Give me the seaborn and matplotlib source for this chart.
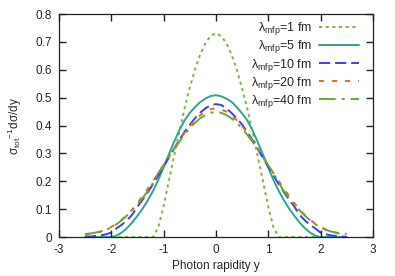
import seaborn as sns
import matplotlib.pyplot as plt
import pandas as pd

sns.set_style("ticks", {"xtick.direction": "in", "ytick.direction": "in"})
plt.rcParams["font.family"] = ["Liberation Sans", "DejaVu Sans"]
plt.rcParams["mathtext.fontset"] = "custom"
plt.rcParams["mathtext.rm"] = "Liberation Sans"
plt.rcParams["mathtext.it"] = "Liberation Sans:italic"

# photon rapidity bins
rapidity = [-2.5, -2.4, -2.3, -2.2, -2.1, -2.0, -1.9, -1.8, -1.7, -1.6, -1.5,
            -1.4, -1.3, -1.2, -1.1, -1.0, -0.9, -0.8, -0.7, -0.6, -0.5,
            -0.4, -0.3, -0.2, -0.1, 0.0, 0.1, 0.2, 0.3, 0.4, 0.5,
            0.6, 0.7, 0.8, 0.9, 1.0, 1.1, 1.2, 1.3, 1.4, 1.5,
            1.6, 1.7, 1.8, 1.9, 2.0, 2.1, 2.2, 2.3, 2.4, 2.5]

mfp_1 = [0, 0, 0, 0, 0, 0, 0, 0, 0, 0, 0,
         0, 0, 0, 0.035, 0.11, 0.20, 0.29, 0.375, 0.46, 0.535,
         0.60, 0.655, 0.695, 0.722, 0.731, 0.721, 0.696, 0.654, 0.601, 0.534,
         0.461, 0.376, 0.29, 0.20, 0.11, 0.035, 0, 0, 0, 0,
         0, 0, 0, 0, 0, 0, 0, 0, 0, 0]
mfp_5 = [0, 0, 0, 0, 0, 0, 0.005, 0.016, 0.032, 0.052, 0.076,
         0.102, 0.132, 0.166, 0.205, 0.25, 0.296, 0.341, 0.383, 0.418, 0.445,
         0.466, 0.484, 0.497, 0.506, 0.509, 0.505, 0.497, 0.485, 0.466, 0.444,
         0.419, 0.383, 0.341, 0.296, 0.25, 0.205, 0.166, 0.132, 0.102, 0.076,
         0.052, 0.032, 0.016, 0.005, 0, 0, 0, 0, 0, 0]
mfp_10 = [0.001, 0.002, 0.004, 0.006, 0.01, 0.016, 0.031, 0.044, 0.06, 0.08, 0.109,
          0.134, 0.161, 0.19, 0.221, 0.252, 0.284, 0.316, 0.348, 0.377, 0.403,
          0.426, 0.446, 0.462, 0.473, 0.477, 0.474, 0.462, 0.445, 0.426, 0.404,
          0.377, 0.348, 0.316, 0.284, 0.252, 0.221, 0.19, 0.161, 0.134, 0.109,
          0.08, 0.06, 0.044, 0.031, 0.016, 0.01, 0.006, 0.004, 0.002, 0.001]
mfp_20 = [0.008, 0.011, 0.015, 0.02, 0.027, 0.036, 0.048, 0.062, 0.079, 0.098, 0.122,
          0.147, 0.174, 0.201, 0.229, 0.258, 0.288, 0.318, 0.347, 0.374, 0.398,
          0.419, 0.437, 0.45, 0.459, 0.462, 0.458, 0.45, 0.437, 0.419, 0.398,
          0.374, 0.347, 0.318, 0.288, 0.258, 0.229, 0.201, 0.174, 0.147, 0.122,
          0.098, 0.079, 0.062, 0.048, 0.036, 0.027, 0.02, 0.015, 0.011, 0.008]
mfp_40 = [0.011, 0.013, 0.016, 0.02, 0.026, 0.034, 0.046, 0.06, 0.077, 0.096, 0.117,
          0.14, 0.165, 0.195, 0.23, 0.258, 0.287, 0.315, 0.342, 0.367, 0.39,
          0.41, 0.426, 0.438, 0.446, 0.449, 0.446, 0.438, 0.426, 0.41, 0.39,
          0.367, 0.342, 0.315, 0.287, 0.258, 0.23, 0.195, 0.165, 0.14, 0.117,
          0.096, 0.077, 0.06, 0.046, 0.034, 0.026, 0.02, 0.016, 0.013, 0.011]

x_ticks = [-3, -2, -1, 0, 1, 2, 3]
x_tick_labels = ["-3", "-2", "-1", "0", "1", "2", "3"]
y_ticks = [0, 0.1, 0.2, 0.3, 0.4, 0.5, 0.6, 0.7, 0.8]
y_tick_labels = ["0", "0.1", "0.2", "0.3", "0.4", "0.5", "0.6", "0.7", "0.8"]

series = [
    ("λ$_{\\rm mfp}$=1 fm", mfp_1, "#77b843", (0, (1.57, 1.86))),
    ("λ$_{\\rm mfp}$=5 fm", mfp_5, "#2ca58d", "-"),
    ("λ$_{\\rm mfp}$=10 fm", mfp_10, "#3c3cf5", (0, (5.7, 2.57))),
    ("λ$_{\\rm mfp}$=20 fm", mfp_20, "#e36c1c", (0, (2.57, 4.14))),
    ("λ$_{\\rm mfp}$=40 fm", mfp_40, "#66a832", (0, (8.57, 3.07, 1.57, 3.07))),
]

fig = plt.figure(figsize=(3.95, 2.76), dpi=100)
ax = fig.add_axes([0.149, 0.141, 0.795, 0.808])

for label, vals, color, ls in series:
    df = pd.DataFrame({"y": rapidity, "v": vals})
    sns.lineplot(data=df, x="y", y="v", ax=ax, color=color, linestyle=ls,
                 linewidth=1.4, label=label)

ax.set_xlim(-3, 3)
ax.set_ylim(0, 0.8)
ax.set_xticks(x_ticks)
ax.set_xticklabels(x_tick_labels)
ax.set_yticks(y_ticks)
ax.set_yticklabels(y_tick_labels)
for s in ax.spines.values():
    s.set_color("#222222")
    s.set_linewidth(0.9)

ax.set_xlabel("Photon rapidity y", fontsize=8.5, labelpad=3)
ax.set_ylabel("σ$_{\\rm tot}$$^{-1}$dσ/dy", fontsize=8.5, labelpad=8)

ax.legend(loc="upper right", bbox_to_anchor=(0.955, 0.972), frameon=False,
          markerfirst=False, fontsize=9, handlelength=3.2, handletextpad=0.56,
          labelspacing=0.09, borderaxespad=0, borderpad=0)

# ticks set last, mirrored on all four sides and pointing inward
ax.set_axisbelow(False)
ax.xaxis.set_ticks_position("both")
ax.yaxis.set_ticks_position("both")
ax.tick_params(axis="both", which="major", direction="in", length=5, width=1,
               labelsize=8.5, pad=5, color="#222222", labelcolor="#222222",
               bottom=True, top=True, left=True, right=True)

fig.savefig("out.png", dpi=100)
